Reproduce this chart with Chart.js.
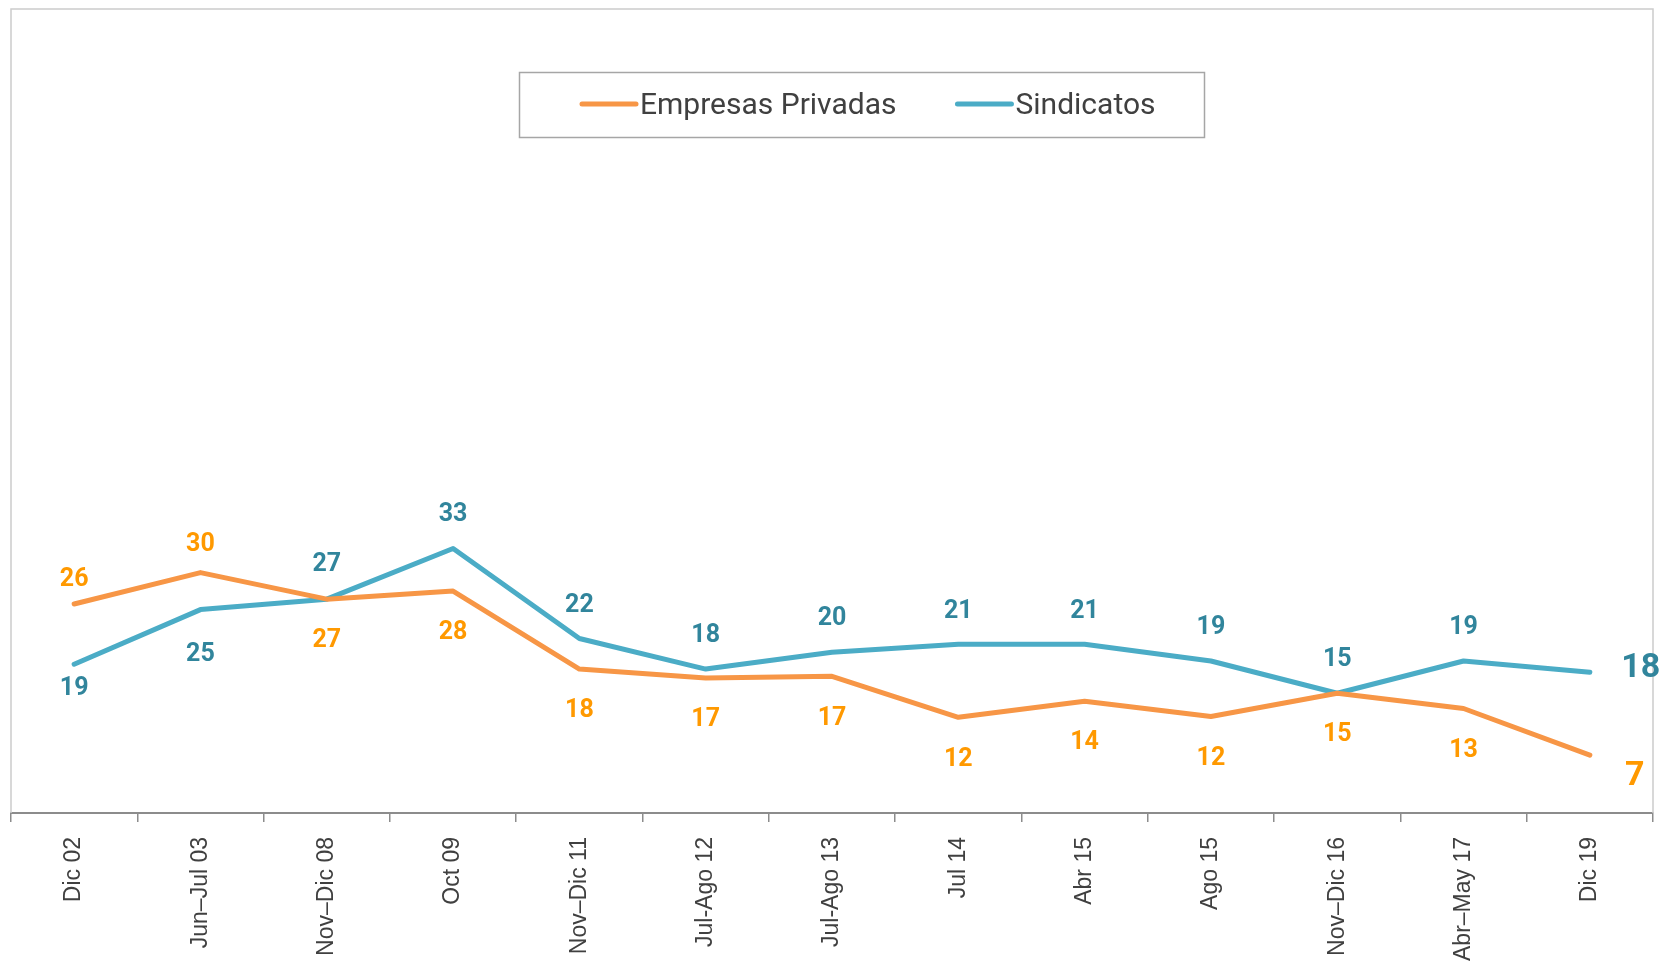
<!DOCTYPE html>
<html>
<head>
<meta charset="utf-8">
<script src="https://cdn.jsdelivr.net/npm/chart.js@4.4.0/dist/chart.umd.min.js"></script>
<style>
  body { margin: 0; background: #fff; }
  #wrap { width: 1661px; height: 961px; position: relative; }
</style>
</head>
<body>
<div id="wrap"><canvas id="lineChart"></canvas></div>
<script>
const categories = ["Dic 02", "Jun–Jul 03", "Nov–Dic 08", "Oct 09", "Nov–Dic 11", "Jul-Ago 12",
  "Jul-Ago 13", "Jul 14", "Abr 15", "Ago 15", "Nov–Dic 16", "Abr–May 17", "Dic 19"];
const empresas = [26.0, 29.9, 26.6, 27.6, 17.9, 16.8, 17.0, 11.9, 13.9, 12.0, 14.9, 13.0, 7.2];
const sindicatos = [18.5, 25.3, 26.6, 32.9, 21.7, 17.9, 20.0, 21.0, 21.0, 18.9, 14.9, 18.9, 17.5];
const seriesNames = ["Empresas Privadas", "Sindicatos"];

// white background + light frame round the plot
const framePlugin = {
  id: "frame",
  beforeDraw(chart) {
    const ctx = chart.ctx;
    ctx.save();
    ctx.fillStyle = "#fff";
    ctx.fillRect(0, 0, chart.width, chart.height);
    ctx.restore();
  },
  beforeDatasetsDraw(chart) {
    const a = chart.chartArea;
    const ctx = chart.ctx;
    ctx.save();
    ctx.strokeStyle = "#cccccc";
    ctx.lineWidth = 1.5;
    ctx.beginPath();
    ctx.moveTo(a.left, a.bottom);
    ctx.lineTo(a.left, a.top);
    ctx.lineTo(a.right, a.top);
    ctx.lineTo(a.right, a.bottom);
    ctx.stroke();
    ctx.restore();
  },
};

// values next to the points
const labelPlugin = {
  id: "pointLabels",
  afterDatasetsDraw(chart) {
    const ctx = chart.ctx;
    ctx.save();
    ctx.textAlign = "center";
    ctx.textBaseline = "middle";
    chart.data.datasets.forEach(function (ds, di) {
      const meta = chart.getDatasetMeta(di);
      meta.data.forEach(function (pt, i) {
        const txt = String(Math.round(ds.data[i]));
        ctx.fillStyle = ds.labelColor;
        if (i === meta.data.length - 1) {
          ctx.font = "bold 34px Roboto";
          ctx.fillText(txt, pt.x + ds.endDx, pt.y + ds.endDy + 3);
        } else {
          ctx.font = "bold 25px Roboto";
          ctx.fillText(txt, pt.x, pt.y + ds.labelDy[i] + 3);
        }
      });
    });
    ctx.restore();
  },
};

// boxed legend sitting inside the plot
const boxLegend = {
  id: "boxLegend",
  afterDraw(chart) {
    const ctx = chart.ctx;
    ctx.save();
    ctx.strokeStyle = "#a6a6a6";
    ctx.lineWidth = 1.5;
    ctx.strokeRect(519.5, 72.5, 685, 65);
    ctx.font = "30px Roboto";
    ctx.textBaseline = "middle";
    ctx.textAlign = "left";
    let x = 582;
    const y = 104;
    chart.data.datasets.forEach(function (ds) {
      ctx.strokeStyle = ds.borderColor;
      ctx.lineWidth = 5;
      ctx.lineCap = "round";
      ctx.beginPath();
      ctx.moveTo(x, y);
      ctx.lineTo(x + 54, y);
      ctx.stroke();
      ctx.fillStyle = "#404040";
      ctx.fillText(ds.label, x + 58, y + 2);
      x = x + 58 + ctx.measureText(ds.label).width + 61;
    });
    ctx.restore();
  },
};

const ctx = document.getElementById("lineChart");

new Chart(ctx, {
  type: "line",
  data: {
    labels: categories,
    datasets: [
      {
        label: seriesNames[0],
        data: empresas,
        borderColor: "#F79646",
        labelColor: "#FF9900",
        labelDy: [-27, -31, 39, 39, 39, 39, 39, 39, 39, 39, 39, 39, 0],
        endDx: 45,
        endDy: 18,
      },
      {
        label: seriesNames[1],
        data: sindicatos,
        borderColor: "#4BACC6",
        labelColor: "#31859C",
        labelDy: [21, 42, -37, -37, -36, -36, -36, -35, -35, -36, -36, -36, 0],
        endDx: 51,
        endDy: -7,
      },
    ],
  },
  options: {
    responsive: true,
    maintainAspectRatio: false,
    animation: false,
    devicePixelRatio: 1,
    layout: { padding: { top: 9, left: 11, right: 8, bottom: 0 } },
    elements: {
      line: {
        borderWidth: 5,
        tension: 0,
        borderCapStyle: "round",
        borderJoinStyle: "round",
      },
      point: { radius: 0, hoverRadius: 0 },
    },
    plugins: {
      legend: { display: false },
      tooltip: { enabled: false },
    },
    scales: {
      x: {
        offset: true,
        grid: {
          offset: true,
          drawOnChartArea: false,
          color: "#8c8c8c",
          lineWidth: 1.5,
          tickLength: 9,
        },
        border: { display: true, color: "#8c8c8c", width: 2 },
        ticks: {
          minRotation: 90,
          maxRotation: 90,
          padding: 15,
          color: "#404040",
          font: { family: "'Liberation Sans', Arial", size: 23 },
        },
        afterFit(scale) {
          scale.height = 148;
        },
      },
      y: {
        display: false,
        min: 0,
        max: 100,
      },
    },
  },
  plugins: [framePlugin, labelPlugin, boxLegend],
});
</script>
</body>
</html>
